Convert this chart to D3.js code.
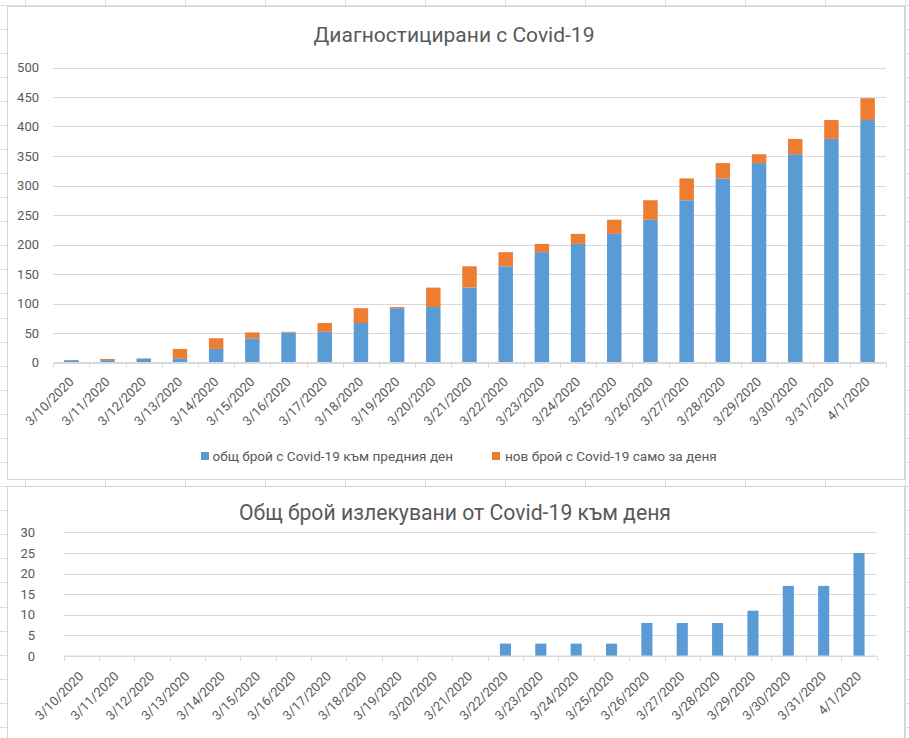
<!DOCTYPE html>
<html>
<head>
<meta charset="utf-8">
<script src="https://cdn.jsdelivr.net/npm/d3@7"></script>
<style>
  html, body { margin: 0; padding: 0; background: #fff; }
  svg { display: block; }
  text { font-family: Roboto, "Noto Sans", sans-serif; fill: #595959; }
</style>
</head>
<body>
<svg id="chart" width="909" height="738"></svg>
<script>
// ---------- data ----------
const dates = ["3/10/2020","3/11/2020","3/12/2020","3/13/2020","3/14/2020","3/15/2020",
  "3/16/2020","3/17/2020","3/18/2020","3/19/2020","3/20/2020","3/21/2020","3/22/2020",
  "3/23/2020","3/24/2020","3/25/2020","3/26/2020","3/27/2020","3/28/2020","3/29/2020",
  "3/30/2020","3/31/2020","4/1/2020"];
const prevTotal = [4,4,6,7,23,41,51,52,67,92,94,127,163,187,201,218,242,275,312,338,353,379,411];
const newCases  = [0,2,1,16,18,10,1,15,25,2,33,36,24,14,17,24,33,37,26,15,26,32,37];
const recovered = [0,0,0,0,0,0,0,0,0,0,0,0,3,3,3,3,8,8,8,11,17,17,25];
const topTicks = [0,50,100,150,200,250,300,350,400,450,500];
const bottomTicks = [0,5,10,15,20,25,30];
const topTitle = "Диагностицирани с Covid-19";
const bottomTitle = "Общ брой излекувани от Covid-19 към деня";
const legendLabels = ["общ брой с Covid-19 към предния ден", "нов брой с Covid-19 само за деня"];
const seriesKeys = ["prev", "new"];
const colors = ["#5B9BD5", "#ED7D31"];

// ---------- setup ----------
const svg = d3.select("#chart");
const W = 909, H = 738;
const gridColor = "#d9d9d9";

// spreadsheet background grid
const bg = svg.append("g");
bg.append("rect").attr("width", W).attr("height", H).attr("fill", "#fff");
d3.range(0, 32).forEach(k => {
  const y = Math.round(4.5 + 24.08 * k) + 0.5;
  bg.append("line").attr("x1", 0).attr("x2", W).attr("y1", y).attr("y2", y)
    .attr("stroke", "#dcdcdc");
});
d3.range(0, 12).forEach(k => {
  const x = 25.5 + 80 * k;
  bg.append("line").attr("x1", x).attr("x2", x).attr("y1", 0).attr("y2", H)
    .attr("stroke", "#dcdcdc");
});

// chart boxes
svg.append("rect").attr("x", 7.5).attr("y", 6.5).attr("width", 897).attr("height", 473)
  .attr("fill", "#fff").attr("stroke", "#d4d4d4");
svg.append("rect").attr("x", 7.5).attr("y", 486.5).attr("width", 897).attr("height", 300)
  .attr("fill", "#fff").attr("stroke", "#d4d4d4");

function bandFor(left, right, gap) {
  const pi = gap / (1 + gap);
  return d3.scaleBand().domain(dates).range([left, right]).paddingInner(pi).paddingOuter(pi / 2);
}

function drawCategoryAxis(g, x, y0, left, right, labelOffset) {
  g.append("line").attr("x1", left).attr("x2", right).attr("y1", y0).attr("y2", y0)
    .attr("stroke", gridColor);
  const step = x.step();
  const boundaries = d3.range(0, dates.length + 1).map(i => left + i * step);
  g.selectAll(".tk").data(boundaries).join("line")
    .attr("x1", d => Math.round(d) + 0.5).attr("x2", d => Math.round(d) + 0.5)
    .attr("y1", y0).attr("y2", y0 + 5).attr("stroke", gridColor);
  g.selectAll(".xl").data(dates).join("text")
    .attr("transform", d => `translate(${x(d) + x.bandwidth() / 2},${y0 + labelOffset}) rotate(-45)`)
    .attr("text-anchor", "end").attr("dominant-baseline", "central")
    .attr("font-size", 13).text(d => d);
}

function drawValueAxis(g, y, ticks, left, right, labelX) {
  g.selectAll(".gl").data(ticks).join("line")
    .attr("x1", left).attr("x2", right)
    .attr("y1", d => Math.round(y(d)) + 0.5).attr("y2", d => Math.round(y(d)) + 0.5)
    .attr("stroke", gridColor);
  const ax = g.append("g").attr("transform", `translate(${labelX},0)`)
    .call(d3.axisLeft(y).tickValues(ticks).tickSize(0).tickPadding(0));
  ax.select(".domain").remove();
  ax.selectAll("text").attr("font-size", 13).attr("fill", "#595959")
    .attr("font-family", "Roboto, 'Noto Sans', sans-serif");
}

// ---------- top chart ----------
{
  const left = 53.3, right = 885.7;
  const g = svg.append("g");
  const x = bandFor(left, right, 1.5);
  const y = d3.scaleLinear().domain([0, 500]).range([362.5, 67.5]);

  g.append("text").attr("x", 454).attr("y", 42).attr("text-anchor", "middle")
    .attr("font-size", 21).text(topTitle);

  drawValueAxis(g, y, topTicks, left, right, 39);

  const table = dates.map((d, i) => ({ date: d, prev: prevTotal[i], new: newCases[i] }));
  const stacked = d3.stack().keys(seriesKeys)(table);
  g.selectAll(".series").data(stacked).join("g")
    .attr("fill", (d, i) => colors[i])
    .selectAll("rect").data(d => d).join("rect")
    .attr("x", d => x(d.data.date))
    .attr("width", x.bandwidth())
    .attr("y", d => y(d[1]))
    .attr("height", d => y(d[0]) - y(d[1]));

  drawCategoryAxis(g, x, 362.5, left, right, 17);

  // legend
  const lg = g.append("g");
  const legendPos = [{ sx: 201, tx: 212.5 }, { sx: 492, tx: 505 }];
  legendLabels.forEach((lab, i) => {
    lg.append("rect").attr("x", legendPos[i].sx).attr("y", 452).attr("width", 8).attr("height", 8)
      .attr("fill", colors[i]);
    lg.append("text").attr("x", legendPos[i].tx).attr("y", 460.5).attr("font-size", 13.6).text(lab);
  });
}

// ---------- bottom chart ----------
{
  const left = 63.5, right = 876.7;
  const g = svg.append("g");
  const x = bandFor(left, right, 2.19);
  const y = d3.scaleLinear().domain([0, 30]).range([656, 532.3]);

  g.append("text").attr("x", 455).attr("y", 520).attr("text-anchor", "middle")
    .attr("font-size", 21.2).text(bottomTitle);

  drawValueAxis(g, y, bottomTicks, left, right, 35);

  g.selectAll(".bar").data(dates).join("rect")
    .attr("fill", colors[0])
    .attr("x", d => x(d))
    .attr("width", x.bandwidth())
    .attr("y", (d, i) => y(recovered[i]))
    .attr("height", (d, i) => y(0) - y(recovered[i]));

  drawCategoryAxis(g, x, 656, left, right, 18);
}
</script>
</body>
</html>
